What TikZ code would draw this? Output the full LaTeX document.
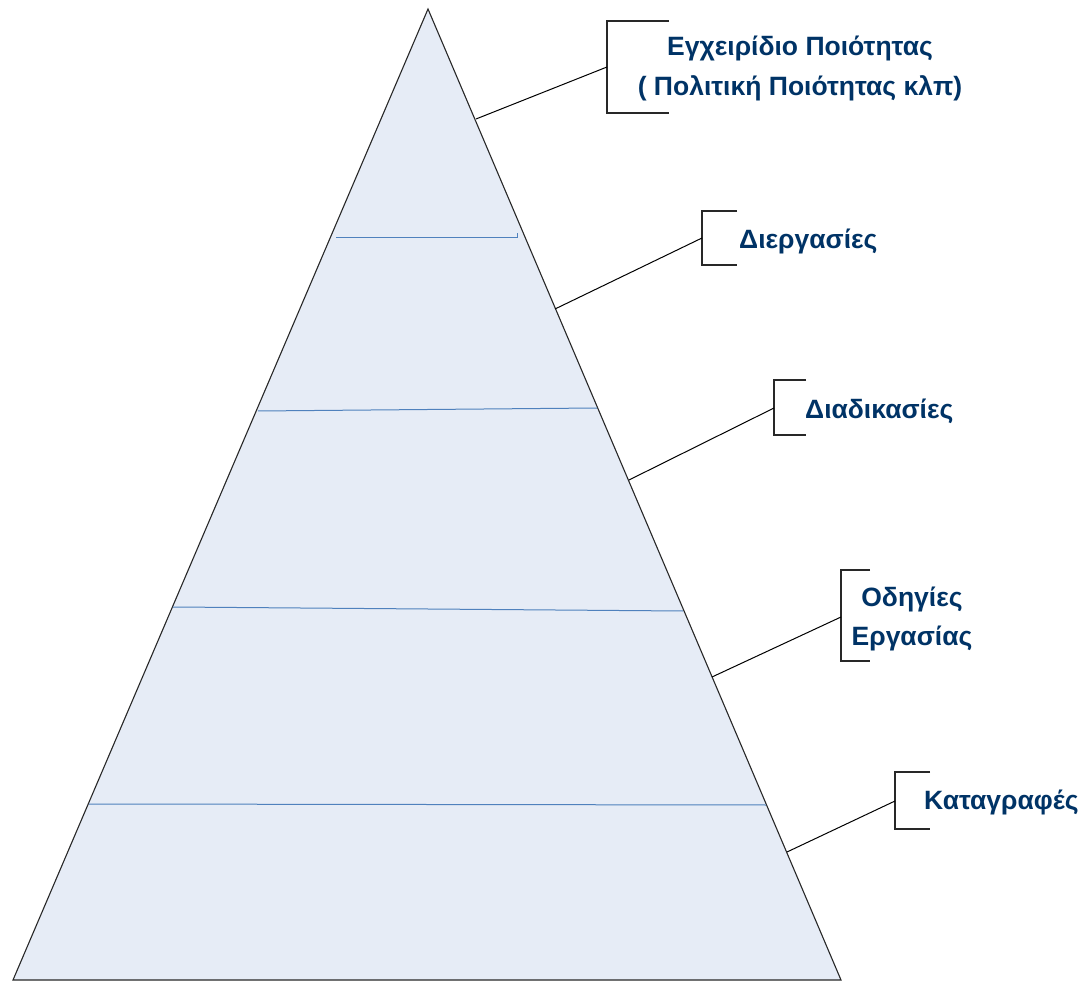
\documentclass[tikz,border=0pt]{standalone}
\usepackage{fontspec}
\setmainfont{Liberation Sans}
\definecolor{pfill}{RGB}{230,236,246}
\definecolor{bline}{RGB}{79,129,189}
\definecolor{tblue}{RGB}{0,51,102}
\definecolor{edgec}{RGB}{40,40,40}
\begin{document}
\begin{tikzpicture}[x=1pt,y=-1pt,
  bracket/.style={draw=edgec,line width=1.1pt},
  conn/.style={draw=black,line width=1pt},
  level/.style={draw=bline,line width=1pt},
  lbl/.style={text=tblue,font=\fontsize{26.5}{39.5}\selectfont\bfseries,align=center,inner sep=0pt}]
\useasboundingbox (0,0) rectangle (1088,981);
% triangle
\coordinate (apex) at (428,9);
\coordinate (bl) at (13,980);
\coordinate (br) at (841,980);
\draw[fill=pfill,draw=edgec,line width=1.1pt] (apex) -- (br) -- (bl) -- cycle;
% level lines
\coordinate (l1a) at (336,238); \coordinate (l1b) at (517,238); \coordinate (l1c) at (517,233);
\draw[level] (l1a) -- (l1b) -- (l1c);
\coordinate (l2a) at (258,411); \coordinate (l2b) at (597,408);
\draw[level] (l2a) -- (l2b);
\coordinate (l3a) at (173,607); \coordinate (l3b) at (683,611);
\draw[level] (l3a) -- (l3b);
\coordinate (l4a) at (89,804); \coordinate (l4b) at (766,805);
\draw[level] (l4a) -- (l4b);
% label 1
\coordinate (p1) at (476,119); \coordinate (b1) at (607,67);
\draw[bracket] (669,21) -- (607,21) -- (607,113) -- (669,113);
\draw[conn] (p1) -- (b1);
\node[lbl] (t1) at (800,68.5) {Εγχειρίδιο Ποιότητας\\( Πολιτική Ποιότητας κλπ)};
% label 2
\coordinate (p2) at (555,309); \coordinate (b2) at (702,238);
\draw[bracket] (737,211) -- (702,211) -- (702,265) -- (737,265);
\draw[conn] (p2) -- (b2);
\node[lbl,anchor=west] (t2) at (739,241) {Διεργασίες};
% label 3
\coordinate (p3) at (629,480); \coordinate (b3) at (774,408);
\draw[bracket] (806,380) -- (774,380) -- (774,435) -- (806,435);
\draw[conn] (p3) -- (b3);
\node[lbl,anchor=west] (t3) at (805,411) {Διαδικασίες};
% label 4
\coordinate (p4) at (712,677); \coordinate (b4) at (841,617);
\draw[bracket] (870,570) -- (841,570) -- (841,661) -- (870,661);
\draw[conn] (p4) -- (b4);
\node[lbl] (t4) at (912,619) {Οδηγίες\\Εργασίας};
% label 5
\coordinate (p5) at (787,852); \coordinate (b5) at (895,801);
\draw[bracket] (930,772) -- (895,772) -- (895,829) -- (930,829);
\draw[conn] (p5) -- (b5);
\node[lbl,anchor=west] (t5) at (924,802) {Καταγραφές};
\end{tikzpicture}
\end{document}
